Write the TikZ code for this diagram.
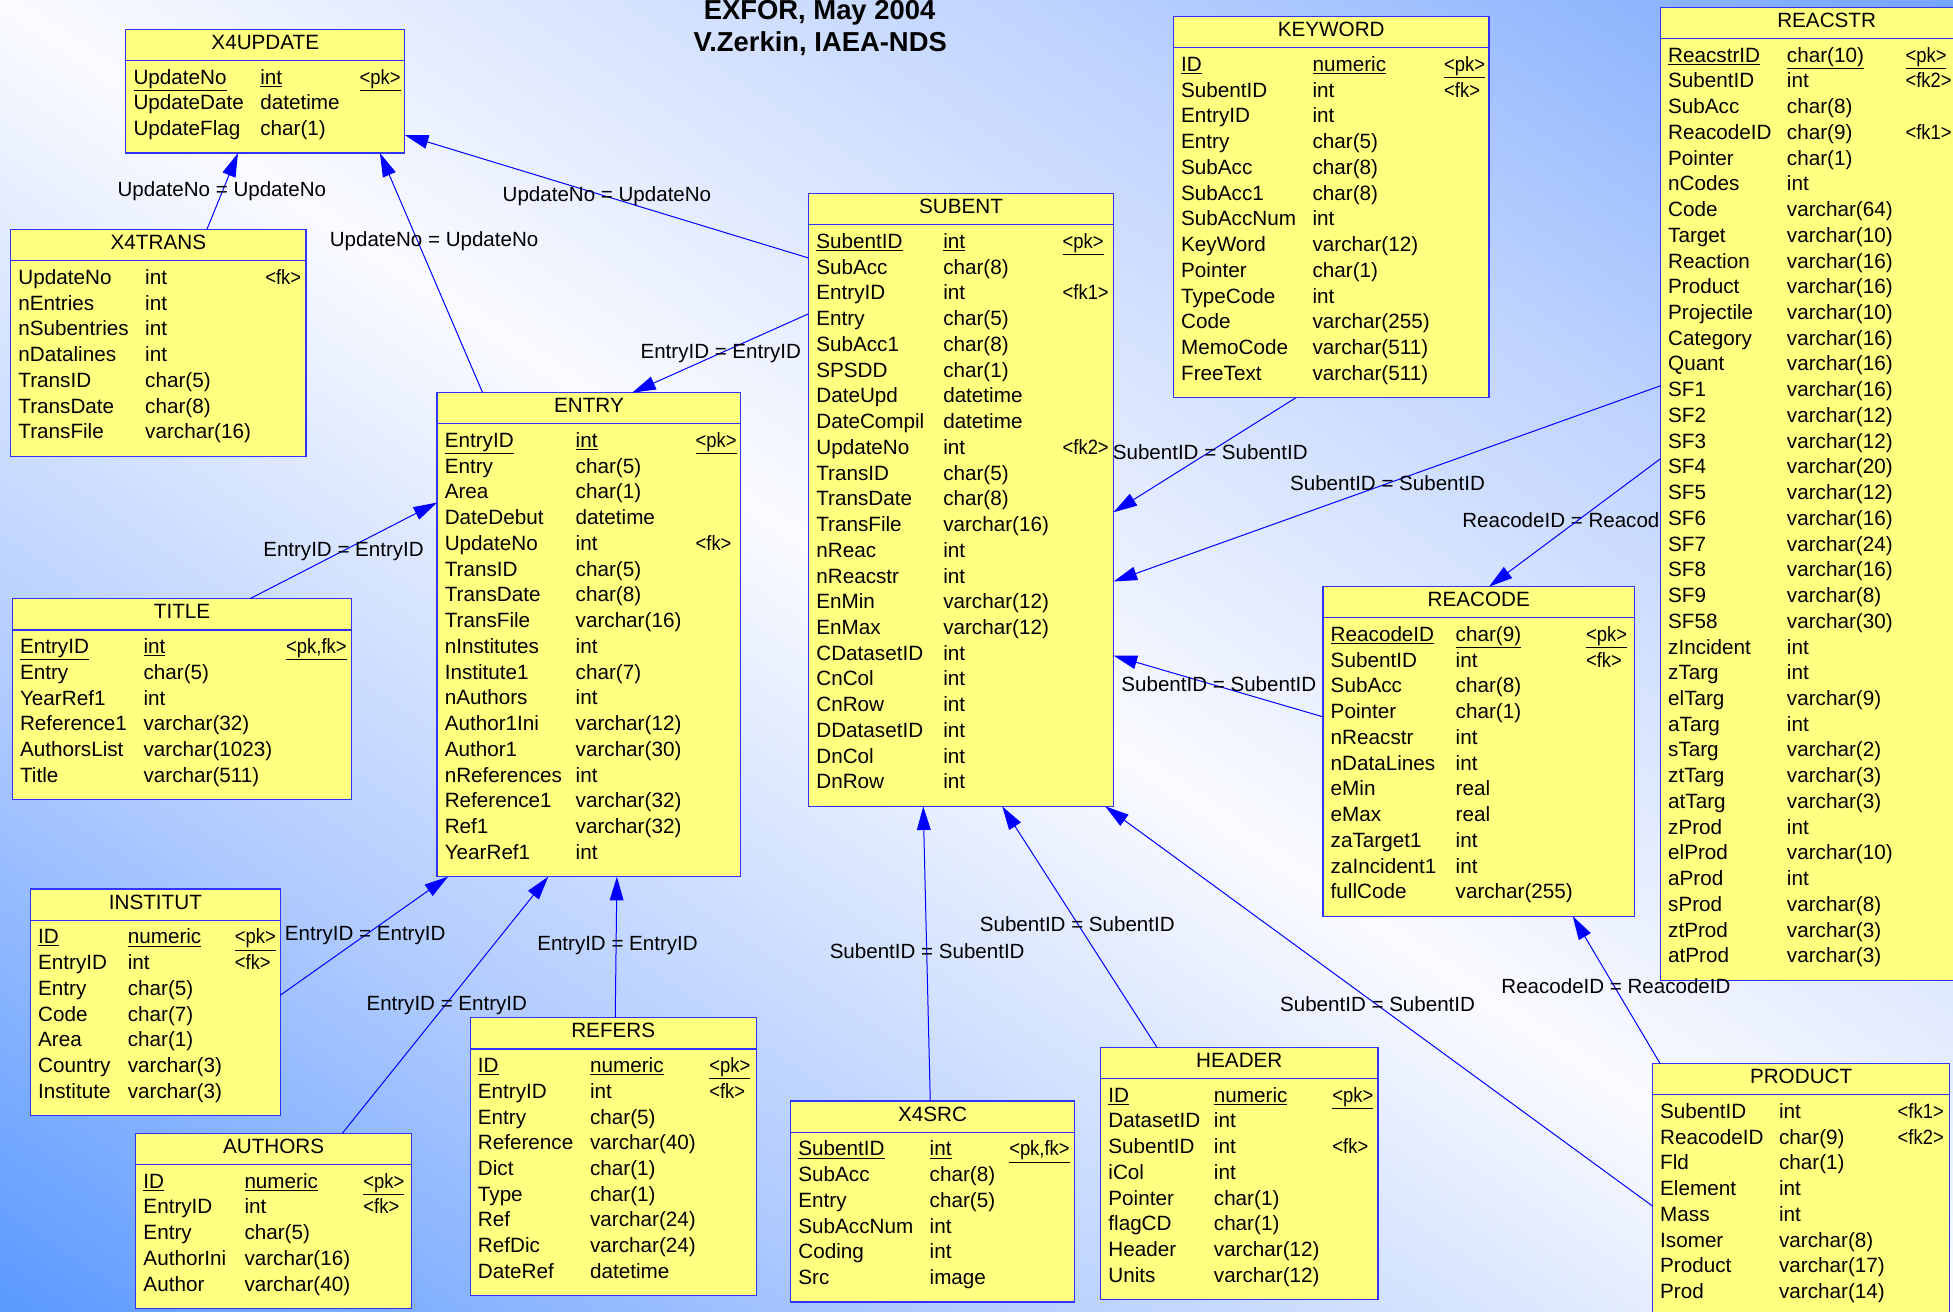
\documentclass[tikz,border=0pt]{standalone}
\usepackage{fontspec}
\setmainfont{Liberation Sans}
\usetikzlibrary{arrows.meta,calc}
\definecolor{tblfill}{RGB}{255,255,128}
\definecolor{tblline}{RGB}{50,50,255}
\definecolor{connblue}{RGB}{0,0,255}
\definecolor{bgA}{RGB}{85,150,255}
\definecolor{bgAm}{RGB}{178,204,255}
\definecolor{bgW}{RGB}{250,251,255}
\definecolor{bgBm}{RGB}{192,212,255}
\definecolor{bgB}{RGB}{112,162,252}
\pgfdeclareverticalshading{bgshade}{100bp}{color(0bp)=(bgA); color(25bp)=(bgA); color(37.5bp)=(bgAm); color(50bp)=(bgW); color(62.5bp)=(bgBm); color(75bp)=(bgB); color(100bp)=(bgB)}
\newcommand\rowfont{\fontsize{16.6pt}{20pt}\selectfont}
\newcommand\lblfont{\fontsize{16.5pt}{20pt}\selectfont}
\newcommand\hdfont{\fontsize{22pt}{26pt}\selectfont\bfseries}
\newcommand\uu[1]{\underline{#1}}
\tikzset{
  tbl/.style={draw=tblline, fill=tblfill, line width=1pt, inner sep=0pt, outer sep=0pt, anchor=north west},
  sepline/.style={draw=tblline, line width=1pt},
  cell/.style={inner sep=0pt, anchor=base west, font=\rowfont},
  ttl/.style={inner sep=0pt, anchor=base, font=\rowfont},
  lbl/.style={inner sep=0pt, anchor=base, font=\lblfont},
  conn/.style={draw=connblue, line width=0.8pt, -{Triangle[length=19pt,width=11pt]}},
  hd/.style={inner sep=0pt, anchor=base, font=\hdfont}
}
% #1 id, #2 title, #3 L, #4 R, #5 T, #6 nrows, #7 typeX, #8 keyX, #9 rows
\newcommand\ertable[9]{%
  \pgfmathsetmacro\ertW{#4-#3}%
  \pgfmathsetmacro\ertH{58+(#6-1)*20.66}%
  \node[tbl, minimum width=\ertW pt, minimum height=\ertH pt] (#1) at (#3,#5) {};
  \draw[sepline] (#3,#5+25) -- (#4,#5+25);
  \node[ttl] (#1-title) at ({(#3+#4)/2},#5+16) {#2};
  \foreach \ra/\rb/\rc [count=\ri from 0] in {#9}{%
    \pgfmathsetmacro\ry{#5+44+\ri*20.66}%
    \node[cell] (#1-n\ri) at (#3+6,\ry) {\ra};
    \node[cell] (#1-t\ri) at (#7,\ry) {\rb};
    \node[cell] (#1-k\ri) at (#8,\ry) {\scalebox{0.89}[1]{\rc}};
  }%
}
\begin{document}
\begin{tikzpicture}[x=1pt,y=-1pt]
\useasboundingbox (0,0) rectangle (1568,1053);
\clip (0,0) rectangle (1568,1053);
% background
\begin{scope}[transform canvas={rotate around={-33.88:(784,526.5)}}]
  \shade[shading=bgshade] (-316,-373.5) rectangle (1884,1426.5);
\end{scope}
% label hidden under REACSTR
\node[lbl] (lo) at (1266,423.4) {ReacodeID = ReacodeID};
% tables
\ertable{X4UPDATE}{X4UPDATE}{101}{325}{23.6}{3}{208.8}{288.5}{%
\uu{UpdateNo}/\uu{int}/\uu{<pk>},%
UpdateDate/datetime/{},%
UpdateFlag/char(1)/{}}
\ertable{X4TRANS}{X4TRANS}{8.6}{245.7}{184.4}{7}{116.4}{212.8}{%
UpdateNo/int/<fk>,nEntries/int/{},nSubentries/int/{},nDatalines/int/{},%
TransID/char(5)/{},TransDate/char(8)/{},TransFile/varchar(16)/{}}
\ertable{ENTRY}{ENTRY}{350.9}{594.8}{315.3}{17}{462}{558.3}{%
\uu{EntryID}/\uu{int}/\uu{<pk>},Entry/char(5)/{},Area/char(1)/{},DateDebut/datetime/{},%
UpdateNo/int/<fk>,TransID/char(5)/{},TransDate/char(8)/{},TransFile/varchar(16)/{},%
nInstitutes/int/{},Institute1/char(7)/{},nAuthors/int/{},Author1Ini/varchar(12)/{},%
Author1/varchar(30)/{},nReferences/int/{},Reference1/varchar(32)/{},Ref1/varchar(32)/{},%
YearRef1/int/{}}
\ertable{TITLE}{TITLE}{9.9}{282.4}{480.7}{6}{115.1}{229.6}{%
\uu{EntryID}/\uu{int}/\uu{<pk,fk>},Entry/char(5)/{},YearRef1/int/{},%
Reference1/varchar(32)/{},AuthorsList/varchar(1023)/{},Title/varchar(511)/{}}
\ertable{INSTITUT}{INSTITUT}{24.4}{225.1}{713.8}{7}{102.4}{188.4}{%
\uu{ID}/\uu{numeric}/\uu{<pk>},EntryID/int/<fk>,Entry/char(5)/{},Code/char(7)/{},%
Area/char(1)/{},Country/varchar(3)/{},Institute/varchar(3)/{}}
\ertable{AUTHORS}{AUTHORS}{109}{330.3}{910}{5}{196.1}{291.6}{%
\uu{ID}/\uu{numeric}/\uu{<pk>},EntryID/int/<fk>,Entry/char(5)/{},%
AuthorIni/varchar(16)/{},Author/varchar(40)/{}}
\ertable{REFERS}{REFERS}{377.5}{607.2}{817.1}{9}{473.6}{569.3}{%
\uu{ID}/\uu{numeric}/\uu{<pk>},EntryID/int/<fk>,Entry/char(5)/{},Reference/varchar(40)/{},%
Dict/char(1)/{},Type/char(1)/{},Ref/varchar(24)/{},RefDic/varchar(24)/{},DateRef/datetime/{}}
\ertable{X4SRC}{X4SRC}{634.8}{862.6}{884}{6}{746.2}{810.1}{%
\uu{SubentID}/\uu{int}/\uu{<pk,fk>},SubAcc/char(8)/{},Entry/char(5)/{},%
SubAccNum/int/{},Coding/int/{},Src/image/{}}
\ertable{HEADER}{HEADER}{883.7}{1106.3}{840.9}{8}{974.4}{1069.6}{%
\uu{ID}/\uu{numeric}/\uu{<pk>},DatasetID/int/{},SubentID/int/<fk>,iCol/int/{},%
Pointer/char(1)/{},flagCD/char(1)/{},Header/varchar(12)/{},Units/varchar(12)/{}}
\ertable{PRODUCT}{PRODUCT}{1326.7}{1565.4}{854}{8}{1428.2}{1523.4}{%
SubentID/int/<fk1>,ReacodeID/char(9)/<fk2>,Fld/char(1)/{},Element/int/{},%
Mass/int/{},Isomer/varchar(8)/{},Product/varchar(17)/{},Prod/varchar(14)/{}}
\ertable{REACODE}{REACODE}{1062.2}{1312.2}{471}{11}{1168.5}{1273.2}{%
\uu{ReacodeID}/\uu{char(9)}/\uu{<pk>},SubentID/int/<fk>,SubAcc/char(8)/{},Pointer/char(1)/{},%
nReacstr/int/{},nDataLines/int/{},eMin/real/{},eMax/real/{},zaTarget1/int/{},%
zaIncident1/int/{},fullCode/varchar(255)/{}}
\ertable{KEYWORD}{KEYWORD}{942.1}{1195.5}{13.4}{13}{1053.6}{1159.3}{%
\uu{ID}/\uu{numeric}/\uu{<pk>},SubentID/int/<fk>,EntryID/int/{},Entry/char(5)/{},%
SubAcc/char(8)/{},SubAcc1/char(8)/{},SubAccNum/int/{},KeyWord/varchar(12)/{},%
Pointer/char(1)/{},TypeCode/int/{},Code/varchar(255)/{},MemoCode/varchar(511)/{},%
FreeText/varchar(511)/{}}
\ertable{REACSTR}{REACSTR}{1333.1}{1600}{5.9}{36}{1434.5}{1529.7}{%
\uu{ReacstrID}/\uu{char(10)}/\uu{<pk>},SubentID/int/<fk2>,SubAcc/char(8)/{},%
ReacodeID/char(9)/<fk1>,Pointer/char(1)/{},nCodes/int/{},Code/varchar(64)/{},%
Target/varchar(10)/{},Reaction/varchar(16)/{},Product/varchar(16)/{},%
Projectile/varchar(10)/{},Category/varchar(16)/{},Quant/varchar(16)/{},%
SF1/varchar(16)/{},SF2/varchar(12)/{},SF3/varchar(12)/{},SF4/varchar(20)/{},%
SF5/varchar(12)/{},SF6/varchar(16)/{},SF7/varchar(24)/{},SF8/varchar(16)/{},%
SF9/varchar(8)/{},SF58/varchar(30)/{},zIncident/int/{},zTarg/int/{},%
elTarg/varchar(9)/{},aTarg/int/{},sTarg/varchar(2)/{},ztTarg/varchar(3)/{},%
atTarg/varchar(3)/{},zProd/int/{},elProd/varchar(10)/{},aProd/int/{},%
sProd/varchar(8)/{},ztProd/varchar(3)/{},atProd/varchar(3)/{}}
\ertable{SUBENT}{SUBENT}{649.2}{894}{155.5}{22}{757.1}{853}{%
\uu{SubentID}/\uu{int}/\uu{<pk>},SubAcc/char(8)/{},EntryID/int/<fk1>,Entry/char(5)/{},%
SubAcc1/char(8)/{},SPSDD/char(1)/{},DateUpd/datetime/{},DateCompil/datetime/{},%
UpdateNo/int/<fk2>,TransID/char(5)/{},TransDate/char(8)/{},TransFile/varchar(16)/{},%
nReac/int/{},nReacstr/int/{},EnMin/varchar(12)/{},EnMax/varchar(12)/{},%
CDatasetID/int/{},CnCol/int/{},CnRow/int/{},DDatasetID/int/{},DnCol/int/{},DnRow/int/{}}
% connectors
\draw[conn] ($(X4TRANS.north west)!0.664!(X4TRANS.north east)$) -- ($(X4UPDATE.south west)!0.402!(X4UPDATE.south east)$);
\draw[conn] ($(ENTRY.north west)!0.150!(ENTRY.north east)$) -- ($(X4UPDATE.south west)!0.911!(X4UPDATE.south east)$);
\draw[conn] ($(SUBENT.north west)!0.105!(SUBENT.south west)$) -- ($(X4UPDATE.north east)!0.854!(X4UPDATE.south east)$);
\draw[conn] ($(SUBENT.north west)!0.196!(SUBENT.south west)$) -- ($(ENTRY.north west)!0.642!(ENTRY.north east)$);
\draw[conn] ($(TITLE.north west)!0.700!(TITLE.north east)$) -- ($(ENTRY.north west)!0.227!(ENTRY.south west)$);
\draw[conn] ($(INSTITUT.north east)!0.468!(INSTITUT.south east)$) -- ($(ENTRY.south west)!0.036!(ENTRY.south east)$);
\draw[conn] ($(AUTHORS.north west)!0.749!(AUTHORS.north east)$) -- ($(ENTRY.south west)!0.366!(ENTRY.south east)$);
\draw[conn] ($(REFERS.north west)!0.507!(REFERS.north east)$) -- ($(ENTRY.south west)!0.592!(ENTRY.south east)$);
\draw[conn] ($(X4SRC.north west)!0.492!(X4SRC.north east)$) -- ($(SUBENT.south west)!0.376!(SUBENT.south east)$);
\draw[conn] ($(HEADER.north west)!0.203!(HEADER.north east)$) -- ($(SUBENT.south west)!0.635!(SUBENT.south east)$);
\draw[conn] ($(PRODUCT.north west)!0.564!(PRODUCT.south west)$) -- ($(SUBENT.south west)!0.973!(SUBENT.south east)$);
\draw[conn] ($(REACODE.north west)!0.395!(REACODE.south west)$) -- ($(SUBENT.north east)!0.754!(SUBENT.south east)$);
\draw[conn] ($(KEYWORD.south west)!0.388!(KEYWORD.south east)$) -- ($(SUBENT.north east)!0.520!(SUBENT.south east)$);
\draw[conn] ($(REACSTR.north west)!0.389!(REACSTR.south west)$) -- ($(SUBENT.north east)!0.633!(SUBENT.south east)$);
\draw[conn] ($(REACSTR.north west)!0.464!(REACSTR.south west)$) -- ($(REACODE.north west)!0.533!(REACODE.north east)$);
\draw[conn] ($(PRODUCT.north west)!0.026!(PRODUCT.north east)$) -- ($(REACODE.south west)!0.802!(REACODE.south east)$);
% labels
\node[lbl] (la) at (178.1,157.9) {UpdateNo = UpdateNo};
\node[lbl] (lb) at (348.5,197.5) {UpdateNo = UpdateNo};
\node[lbl] (lc) at (487.3,161.9) {UpdateNo = UpdateNo};
\node[lbl] (ld) at (578.7,287.7) {EntryID = EntryID};
\node[lbl] (le) at (275.8,446.9) {EntryID = EntryID};
\node[lbl] (lf) at (293.2,754.7) {EntryID = EntryID};
\node[lbl] (lg) at (358.7,810.9) {EntryID = EntryID};
\node[lbl] (lh) at (495.8,762.8) {EntryID = EntryID};
\node[lbl] (li) at (744.4,769.4) {SubentID = SubentID};
\node[lbl] (lj) at (864.9,748) {SubentID = SubentID};
\node[lbl] (lk) at (1106,812.3) {SubentID = SubentID};
\node[lbl] (ll) at (978.6,555.5) {SubentID = SubentID};
\node[lbl] (lm) at (971.7,369) {SubentID = SubentID};
\node[lbl] (ln) at (1114,393.6) {SubentID = SubentID};
\node[lbl] (lp) at (1297.4,797.5) {ReacodeID = ReacodeID};
% heading
\node[hd] (head1) at (658,15.3) {EXFOR, May 2004};
\node[hd] (head2) at (658.5,41) {V.Zerkin, IAEA-NDS};
\end{tikzpicture}
\end{document}
